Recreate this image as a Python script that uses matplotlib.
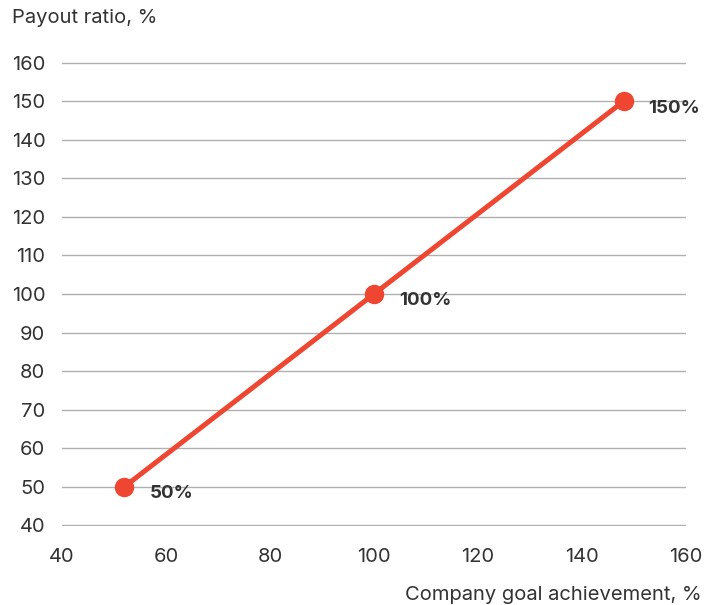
import matplotlib
matplotlib.use("Agg")
import matplotlib.pyplot as plt

# данные графика
goal_achievement = [52, 100, 148]
payout_ratio = [50, 100, 150]
point_labels = ["50%", "100%", "150%"]
x_ticks = [40, 60, 80, 100, 120, 140, 160]
y_ticks = [40, 50, 60, 70, 80, 90, 100, 110, 120, 130, 140, 150, 160]

LINE_COLOR = "#ee4630"
TEXT_COLOR = "#333333"
GRID_COLOR = "#b0b0b0"

plt.rcParams["font.family"] = ["Inter", "DejaVu Sans"]

W, H = 707, 605
fig = plt.figure(figsize=(W / 100, H / 100), dpi=100)
ax = fig.add_axes([62 / W, 1 - 526 / H, (686 - 62) / W, (526 - 62) / H])

ax.plot(goal_achievement, payout_ratio, color=LINE_COLOR, lw=3.6,
        marker="o", markersize=13, solid_capstyle="round", zorder=3, clip_on=False)

for x, y, lab in zip(goal_achievement, payout_ratio, point_labels):
    ax.annotate(lab, (x, y), xytext=(18, -5), textcoords="offset points",
                ha="left", va="center", fontsize=13.5, fontweight="bold",
                color=TEXT_COLOR)

ax.set_xlim(40, 160)
ax.set_ylim(39.8, 160.2)
ax.set_xticks(x_ticks)
ax.set_yticks(y_ticks)
ax.grid(axis="y", color=GRID_COLOR, lw=1)
ax.set_axisbelow(True)
for s in ax.spines.values():
    s.set_visible(False)
ax.tick_params(length=0, labelsize=14.5, colors=TEXT_COLOR)
ax.tick_params(axis="y", pad=12)
ax.tick_params(axis="x", pad=16)

fig.text(12 / W, 1 - 18 / H, "Payout ratio, %", ha="left", va="center",
         fontsize=14.5, color=TEXT_COLOR)
fig.text(702 / W, 1 - 595 / H, "Company goal achievement, %", ha="right",
         va="center", fontsize=14.5, color=TEXT_COLOR)

fig.savefig("out.png", dpi=100)
